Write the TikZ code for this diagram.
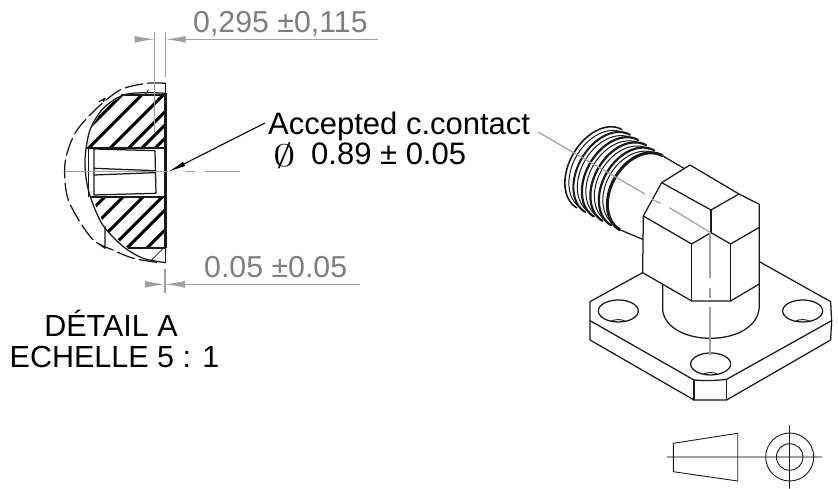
\documentclass[tikz,border=0pt]{standalone}
\usepackage{fontspec}
\setmainfont{Liberation Sans}
\usetikzlibrary{arrows.meta}
\definecolor{dimgray}{HTML}{A0A0A0}
\definecolor{dimtext}{HTML}{7E7E7E}
\tikzset{
  label/.style={anchor=base west,inner sep=0pt,font=\fontsize{31}{31}\selectfont},
  dimlabel/.style={label,text=dimtext,font=\fontsize{30.3}{30.3}\selectfont},
  dimline/.style={draw=dimgray,line width=1.3pt},
  dimtip/.style={dimline,-{Latex[length=20pt,width=7pt]}},
  axisline/.style={draw=dimgray,line width=1.2pt},
  edge/.style={draw=black!90,line width=1.25pt,line join=round,line cap=round},
  hatchline/.style={draw=black,line width=3pt},
  zoomone/.style={shift={(20,0)},x=0.3333pt,y=-0.3333pt},
  zoomtwo/.style={shift={(540,110)},x=0.3333pt,y=-0.3333pt},
}
\newcommand{\threadarc}[4]{% apex x, apex y, half width, line width
  \draw[edge,line width=#4pt] plot[domain=-90:90,samples=36,smooth]
    ({(#1)+90*.866-90*cos(\x)*.866+(#3)*sin(\x)*.5},{(#2)+90*.5-90*cos(\x)*.5-(#3)*sin(\x)*.866});
}
\begin{document}
\begin{tikzpicture}[x=1pt,y=-1pt]
\useasboundingbox (0,0) rectangle (838,489);
% detail view
\begin{scope}[zoomone]
  \begin{scope}
    \clip (200,443) -- (437,443) -- (437,285) -- (310,285) -- (250,325) -- (210,390) -- cycle;
    \foreach \hx in {305,365,430,485,525,565}
      \draw[hatchline] (\hx,285) -- ++(-190,190);
  \end{scope}
  \begin{scope}
    \clip (215,590) -- (437,590) -- (437,745) -- (325,745) -- (260,690) -- cycle;
    \foreach \hx in {255,310,370,428,475,535}
      \draw[hatchline] (\hx,590) -- ++(-190,190);
  \end{scope}
  \draw[edge] plot[smooth] coordinates {(437,280) (380,278) (310,285) (250,325) (210,390) (195,480) (205,570) (245,670) (310,740) (370,775) (437,788)};
  \draw[edge,dash pattern=on 18pt off 5pt] plot[smooth] coordinates {(437,250) (380,250) (300,270) (225,330) (165,400) (135,490) (145,600) (215,715) (283,752) (340,775) (410,787)};
  \draw[edge] (237,305) -- (255,295) -- (250,305);
  \draw[edge] (255,680) -- (255,745) -- (235,730);
  \draw[edge,line width=.8pt] (385,270) -- (375,285);
  \draw[edge,line width=.8pt] (430,745) -- (390,785);
  \draw[edge] (437,250) -- (437,788);
  \draw[edge,line width=3.2pt,line cap=butt] (437,280) -- (437,745);
  \draw[edge,line width=1.8pt] (305,285) -- (437,285);
  \draw[edge,line width=1.8pt] (200,443) -- (437,443);
  \draw[edge,line width=1.8pt] (215,590) -- (437,590);
  \draw[edge,line width=1.8pt] (325,745) -- (437,745);
  % pin
  \draw[edge] (205,443) -- (205,590);
  \draw[edge] (222,447) -- (405,452) -- (408,580) -- (222,585) -- cycle;
  \draw[edge] (222,505) -- (405,512);
  \draw[edge] (222,525) -- (405,518);
  % axis and extension lines
  \draw[axisline] (135,515) -- (445,515);
  \draw[axisline] (495,515) -- (525,515);
  \draw[axisline] (555,515) -- (660,515);
  \draw[axisline] (404,95) -- (404,400);
  \draw[axisline] (437,95) -- (437,230);
  \draw[axisline] (435,808) -- (435,878);
  \draw[dimtip] (345,118) -- (404,118);
  \draw[dimtip] (1075,118) -- (437,118);
  \draw[dimtip] (375,853) -- (435,853);
  \draw[dimtip] (1020,853) -- (435,853);
\end{scope}
\draw[line width=1.1pt,-{Latex[length=18pt,width=5pt]}] (265,123) -- (168,172);
\node[dimlabel] (tolgap) at (193,33) {0,295 ±0,115};
\node[dimlabel] (tolface) at (204,277) {0.05 ±0.05};
\node[label] (contact) at (268,135) {Accepted c.contact};
\node[label,anchor=center,font=\fontsize{24.88}{26}\selectfont] (contactphi) at (285,156) {\scalebox{1.8}[1.25]{$\emptyset$}};
\node[label] (contacttol) at (311,165) {0.89 ± 0.05};
\node[label,anchor=base,font=\fontsize{30.5}{30.5}\selectfont] (detailname) at (111,336) {DÉTAIL A};
\node[label,anchor=base,font=\fontsize{30.5}{30.5}\selectfont] (detailscale) at (114.5,367) {ECHELLE 5 : 1};
% connector view
\begin{scope}[zoomtwo]
  \foreach \ti/\wd in {0/3,1/2.2,2/2.2,3/2.2,4/2,5/1.6}
    \threadarc{225-\ti*25}{203-\ti*14.4}{128+\ti*1.5}{\wd};
  \foreach \ti in {1,2,3,4,5}
    \threadarc{225-\ti*25+10}{203-\ti*14.4+6}{122+\ti*1.5}{1};
  \draw[edge] (367,137) -- (432,175);
  \draw[edge] (239,359) -- (308,388);
  % hex block
  \draw[edge] (308,488) -- (310,318) -- (365,218) -- (450,165) -- (597,252) -- (658,283) -- (658,522);
  \draw[edge] (365,218) -- (513,300) -- (597,252);
  \draw[edge] (513,300) -- (513,368);
  \draw[edge] (310,318) -- (455,402) -- (513,368) -- (572,402) -- (658,352);
  \draw[edge] (455,402) -- (455,573);
  \draw[edge] (572,402) -- (572,573);
  \draw[edge] (308,488) -- (455,573) -- (572,573) -- (658,522);
  % neck
  \draw[edge] (368,525) -- (368,600) .. controls (375,660) and (450,685) .. (510,685) .. controls (590,685) and (655,650) .. (658,590) -- (658,522);
  % flange
  \draw[edge] (308,488) -- (150,575) -- (150,690) -- (462,870) -- (560,870) -- (872,690) -- (875,632) -- (872,575) -- (658,455);
  \draw[edge] (150,632) -- (462,810) .. controls (495,813) and (530,812) .. (560,808) -- (875,632);
  \draw[edge] (462,810) -- (462,870);
  \draw[edge] (560,808) -- (560,870);
  \foreach \hx/\hy in {235/603,788/603,512/762}{
    \draw[edge] (\hx,\hy) ellipse [x radius=60,y radius=33];
    \draw[edge,line width=.9pt] (\hx-22,\hy+31) .. controls (\hx-10,\hy+24) and (\hx+10,\hy+24) .. (\hx+22,\hy+31);
  }
  % axes
  \draw[axisline] (-6,66) -- (315,252);
  \draw[axisline] (335,268) -- (362,280);
  \draw[axisline] (388,293) -- (512,368);
  \draw[axisline] (510,368) -- (510,505);
  \draw[axisline] (510,535) -- (510,565);
  \draw[axisline] (510,590) -- (510,735);
\end{scope}
% projection symbol
\draw[axisline] (667,457) -- (822,457);
\draw[edge,line width=.9pt] (673.3,443.3) -- (737.7,433.3) -- (737.7,481) -- (673.3,471.7) -- cycle;
\draw[edge,line width=.9pt] (789.7,457) circle (24);
\draw[edge,line width=.9pt] (789.7,457) circle (13.3);
\draw[edge,line width=.9pt] (789.7,425.7) -- (789.7,488.3);
\end{tikzpicture}
\end{document}
